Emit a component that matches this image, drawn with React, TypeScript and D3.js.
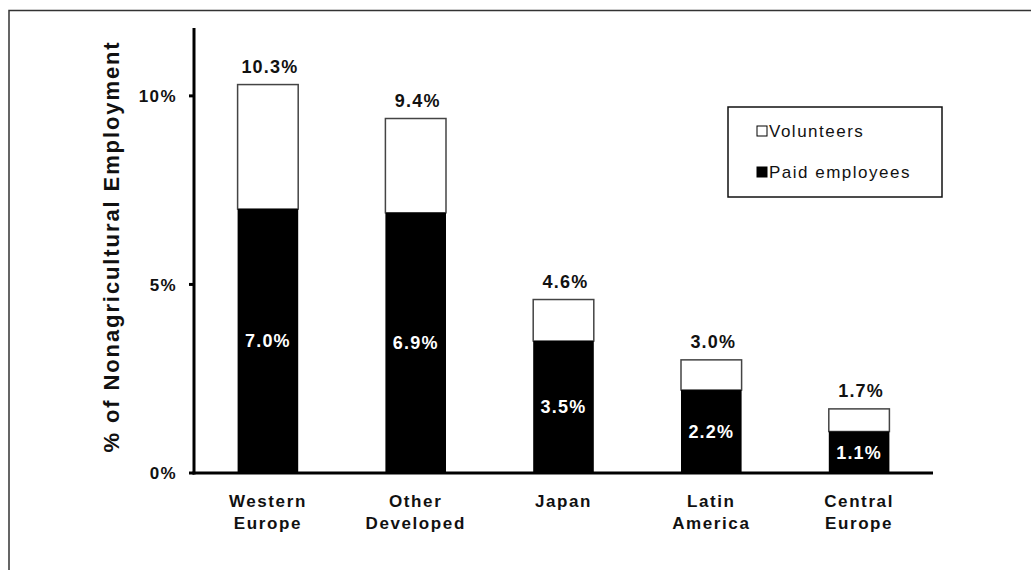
import React from "react";
import * as d3 from "d3";

const categories = [["Western", "Europe"], ["Other", "Developed"], ["Japan"], ["Latin", "America"], ["Central", "Europe"]];
const paidEmployees = [7.0, 6.9, 3.5, 2.2, 1.1];
const totals = [10.3, 9.4, 4.6, 3.0, 1.7];
const totalLabels = ["10.3%", "9.4%", "4.6%", "3.0%", "1.7%"];
const paidLabels = ["7.0%", "6.9%", "3.5%", "2.2%", "1.1%"];
const yTicks = [0, 5, 10];
const legendItems = ["Volunteers", "Paid employees"];

const W = 1031;
const H = 570;
const FONT = "'Liberation Sans', Arial, sans-serif";

export default function App() {
  const x0 = 194, x1 = 933;
  const yBottom = 473, yTop = 28;
  const idx = categories.map((_, i) => String(i));
  const x = d3.scaleBand<string>().domain(idx).range([x0, x1]).paddingInner(0.59).paddingOuter(0.295);
  const y = d3.scaleLinear().domain([0, 11.8]).range([yBottom, yTop]);
  const bw = x.bandwidth();

  return (
    <svg width={W} height={H} style={{ position: "absolute", left: 0, top: 0, background: "#fff" }} fontFamily={FONT}>
      <rect x={0} y={0} width={W} height={H} fill="#fff" />
      {/* frame */}
      <path d={`M9,${H} L9,10.5 L${W},10.5`} fill="none" stroke="#333" strokeWidth={1.5} />

      {/* bars */}
      {idx.map((k, i) => {
        const bx = x(k)!;
        const cx = bx + bw / 2;
        const yPaid = y(paidEmployees[i]);
        const yTot = y(totals[i]);
        return (
          <g key={k}>
            <rect x={bx} y={yTot} width={bw} height={yPaid - yTot} fill="#fff" stroke="#444" strokeWidth={1.5} />
            <rect x={bx} y={yPaid} width={bw} height={yBottom - yPaid} fill="#000" />
            <text x={cx + 2} y={yTot - 12} textAnchor="middle" fontSize={18} fontWeight="bold" letterSpacing={1.2} fill="#111">
              {totalLabels[i]}
            </text>
            <text x={cx} y={(yPaid + yBottom) / 2} dy="0.36em" textAnchor="middle" fontSize={18} fontWeight="bold" letterSpacing={1.2} fill="#fff">
              {paidLabels[i]}
            </text>
            {categories[i].map((line, j) => (
              <text key={j} x={cx} y={507 + j * 22} textAnchor="middle" fontSize={17} fontWeight="bold" letterSpacing={1.6} fill="#111">
                {line}
              </text>
            ))}
          </g>
        );
      })}

      {/* y axis */}
      <line x1={x0} x2={x0} y1={yTop} y2={yBottom + 1.5} stroke="#000" strokeWidth={3} />
      {yTicks.map((t) => (
        <g key={t}>
          <line x1={x0 - 5} x2={x0} y1={y(t)} y2={y(t)} stroke="#000" strokeWidth={3} />
          <text x={177} y={y(t)} dy="0.36em" textAnchor="end" fontSize={17} fontWeight="bold" letterSpacing={1.4} fill="#111">
            {t + "%"}
          </text>
        </g>
      ))}
      {/* x axis */}
      <line x1={x0 - 1.5} x2={x1} y1={yBottom} y2={yBottom} stroke="#000" strokeWidth={3} />

      {/* y title */}
      <text transform={`translate(119,${(38 + 455) / 2}) rotate(-90)`} textAnchor="middle" fontSize={22} fontWeight="bold" letterSpacing={1.9} fill="#111">
        % of Nonagricultural Employment
      </text>

      {/* legend */}
      <rect x={728} y={107} width={214} height={90} fill="#fff" stroke="#111" strokeWidth={1.5} />
      {legendItems.map((name, i) => {
        const cy = 131 + i * 41;
        return (
          <g key={name}>
            <rect x={757} y={cy - 5} width={10} height={10} fill={i === 0 ? "#fff" : "#000"} stroke="#000" strokeWidth={1} />
            <text x={769} y={cy} dy="0.36em" fontSize={17} letterSpacing={1.5} fill="#111">
              {name}
            </text>
          </g>
        );
      })}
    </svg>
  );
}
